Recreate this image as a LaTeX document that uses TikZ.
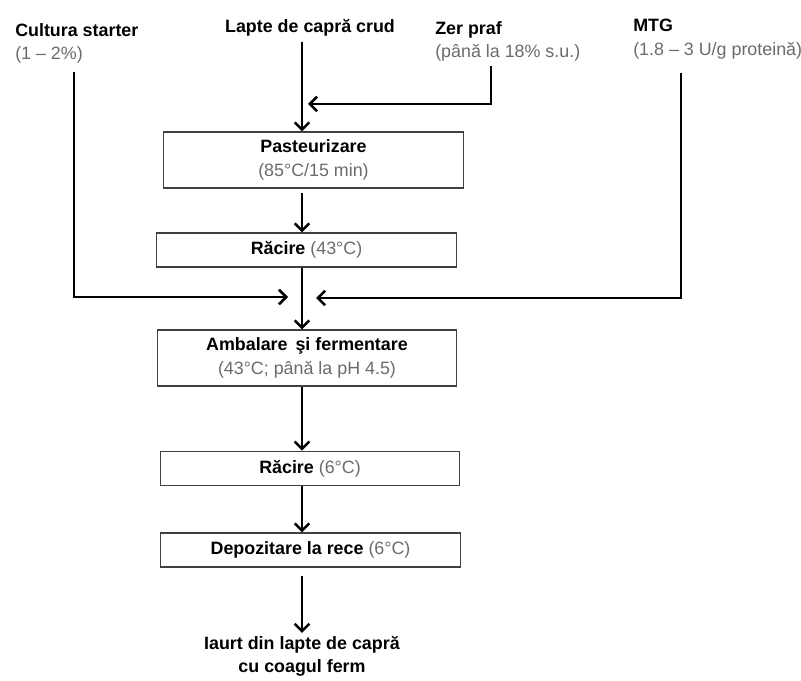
\documentclass[tikz,border=0pt]{standalone}
\usepackage{fontspec}
\setmainfont{Liberation Sans}
\usetikzlibrary{arrows.meta}

\definecolor{notegray}{gray}{0.42}
\newcommand{\grtxt}[1]{{\color{notegray}#1}}

\tikzset{
	txt/.style={font=\fontsize{13.4}{17.5}\selectfont, inner sep=0pt},
	stepbox/.style={txt, draw=black!75, line width=0.8pt, minimum width=224.5pt, align=center},
	flow/.style={line width=1.9pt, -{Straight Barb[length=5.5pt,width=11pt,line width=1.9pt]}}
}

\begin{document}
\begin{tikzpicture}[x=0.75pt,y=-0.75pt]
				\useasboundingbox (0,0) rectangle (801,681);
				
				\draw (15,23) node[txt,anchor=north west,align=left] (cult) {\textbf{Cultura starter}\\\grtxt{(1 – 2\%)}};
				\draw (310,28) node[txt] (lapte) {\textbf{Lapte de capră crud}};
				\draw (435,21) node[txt,anchor=north west,align=left] (zer) {\textbf{Zer praf}\\\grtxt{(până la 18\% s.u.)}};
				\draw (633,19) node[txt,anchor=north west,align=left] (mtg) {\textbf{MTG}\\\grtxt{(1.8 – 3 U/g proteină)}};
				
				\draw (313.5,160) node[stepbox,minimum height=42pt] (past) {\textbf{Pasteurizare}\\\grtxt{(85°C/15 min)}};
				\draw (306.5,250) node[stepbox,minimum height=25.5pt] (rac1) {\textbf{Răcire} \grtxt{(43°C)}};
				\draw (307,358) node[stepbox,minimum height=42pt] (amb) {\textbf{Ambalare\, şi fermentare}\\\grtxt{(43°C; până la pH 4.5)}};
				\draw (310,468.5) node[stepbox,minimum height=26pt] (rac2) {\textbf{Răcire} \grtxt{(6°C)}};
				\draw (310.5,550) node[stepbox,minimum height=25.5pt] (depo) {\textbf{Depozitare la rece} \grtxt{(6°C)}};
				\draw (302,656) node[txt,align=center] (iaurt) {\textbf{Iaurt din lapte de capră}\\\textbf{cu coagul ferm}};
				
				\coordinate (l0) at (302,42);
				\coordinate (c0) at (74,72);
				\coordinate (jl) at (288,297);
				\coordinate (z0) at (491,66);
				\coordinate (jz) at (308,104);
				\coordinate (m0) at (681,73);
				\coordinate (jr) at (316,298);
				
				\draw[flow] (l0) -- (l0 |- past.north);
				\draw[flow] (z0) |- (jz);
				\draw[flow,shorten <=3pt] (l0 |- past.south) -- (l0 |- rac1.north);
				\draw[flow] (l0 |- rac1.south) -- (l0 |- amb.north);
				\draw[flow] (c0) |- (jl);
				\draw[flow] (m0) |- (jr);
				\draw[flow] (l0 |- amb.south) -- (l0 |- rac2.north);
				\draw[flow] (l0 |- rac2.south) -- (l0 |- depo.north);
				\draw[flow,shorten <=6pt] (l0 |- depo.south) -- ([yshift=2pt]l0 |- iaurt.north);
			\end{tikzpicture}
\end{document}
